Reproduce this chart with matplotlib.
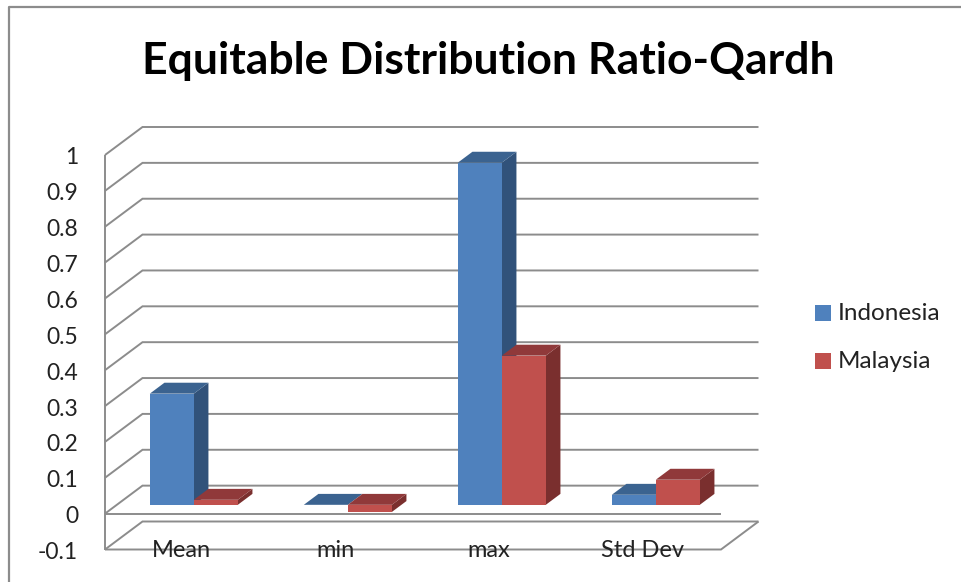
import matplotlib
matplotlib.use("Agg")
import matplotlib.pyplot as plt
from matplotlib.patches import Polygon, Rectangle

categories = ["Mean", "min", "max", "Std Dev"]
indonesia = [0.31, 0.0, 0.954, 0.028]
malaysia = [0.014, -0.02, 0.416, 0.07]
y_ticks = [-0.1, 0, 0.1, 0.2, 0.3, 0.4, 0.5, 0.6, 0.7, 0.8, 0.9, 1]
y_labels = ["-0.1", "0", "0.1", "0.2", "0.3", "0.4", "0.5", "0.6", "0.7", "0.8", "0.9", "1"]
series = [("Indonesia", indonesia, "#4F81BD", "#3B6390", "#31527A"),
          ("Malaysia", malaysia, "#C0504D", "#90393A", "#7A2F2E")]

W, H = 961, 582
FONT = "Lato"
GRID = "#8C8C8C"

fig = plt.figure(figsize=(W / 100, H / 100), dpi=100)
fig.patch.set_facecolor("white")

# Front plane of the plot box, in pixels
left, right, top, bottom = 105, 721, 155, 549.5
ax = fig.add_axes([left / W, 1 - bottom / H, (right - left) / W, (bottom - top) / H])
ax.set_xlim(0, 4)
ax.set_ylim(-0.1, 1)
ax.axis("off")

# Oblique projection: depth 0 is the front plane, depth 1 the back wall
DX = 37.5 / ((right - left) / 4)
DY = 28 / ((bottom - top) / 1.1)


def proj(x, y, d=0.0):
    return x + d * DX, y + d * DY


def line(points, z=2, lw=1.4):
    xs, ys = zip(*points)
    ax.plot(xs, ys, color=GRID, lw=lw, solid_capstyle="butt",
            solid_joinstyle="miter", clip_on=False, zorder=z)


# Walls and floor
for t in y_ticks:
    line([proj(0, t), proj(0, t, 1), proj(4, t, 1)])
line([proj(0, -0.1), proj(0, 1)])
line([proj(0, 0), proj(4, 0)])
line([proj(0, -0.1), proj(4, -0.1), proj(4, -0.1, 1)])

# Bars sit between depth d0 and d1 inside each category slot
BAR_W = 0.2857
d0, d1 = 0.315, 0.705
GAP = (1 - 2 * BAR_W) / 2


def bar(x0, value, front, lid, side, z):
    x1 = x0 + BAR_W
    lo, hi = min(0, value), max(0, value)
    ax.add_patch(Polygon([proj(x1, lo, d0), proj(x1, lo, d1), proj(x1, hi, d1), proj(x1, hi, d0)],
                         closed=True, fc=side, ec="none", zorder=z, clip_on=False))
    ax.add_patch(Polygon([proj(x0, hi, d0), proj(x1, hi, d0), proj(x1, hi, d1), proj(x0, hi, d1)],
                         closed=True, fc=lid, ec="none", zorder=z, clip_on=False))
    if hi > lo:
        ax.add_patch(Polygon([proj(x0, lo, d0), proj(x1, lo, d0), proj(x1, hi, d0), proj(x0, hi, d0)],
                             closed=True, fc=front, ec="none", zorder=z + 0.1, clip_on=False))


for i in range(len(categories)):
    for j, (name, vals, front, lid, side) in enumerate(series):
        bar(i + GAP + j * BAR_W, vals[i], front, lid, side, 3 + j)

# Tick and category labels
for t, lab in zip(y_ticks, y_labels):
    ax.annotate(lab, xy=(0, t), xytext=(-27, -3), textcoords="offset pixels",
                ha="right", va="center", family=FONT, fontsize=16.5, color="#222222",
                annotation_clip=False)
for i, c, shift in zip(range(len(categories)), categories, [-1, 0, -1, -1]):
    ax.annotate(c, xy=(i + 0.5, -0.1), xytext=(shift, -1), textcoords="offset pixels",
                ha="center", va="center", family=FONT, fontsize=17, color="#222222",
                annotation_clip=False, zorder=6)

# Title
fig.text(488.5 / W, 1 - 61 / H, "Equitable Distribution Ratio-Qardh", ha="center", va="center",
         family=FONT, fontweight="bold", fontsize=32, color="black")

# Legend
for name, col, yc in [("Indonesia", series[0][2], 313), ("Malaysia", series[1][2], 361)]:
    fig.add_artist(Rectangle((815 / W, 1 - (yc + 8) / H), 16 / W, 16 / H,
                             transform=fig.transFigure, fc=col, ec="none"))
    fig.text(838 / W, 1 - (yc + 1) / H, name, ha="left", va="center", family=FONT,
             fontsize=17.5, color="#222222")

# Chart frame
fig.add_artist(plt.Line2D([8.5 / W, 8.5 / W, 1], [0, 1 - 7 / H, 1 - 7 / H],
                          transform=fig.transFigure, color="#8C8C8C", lw=1.6))

fig.savefig("out.png", dpi=100)
